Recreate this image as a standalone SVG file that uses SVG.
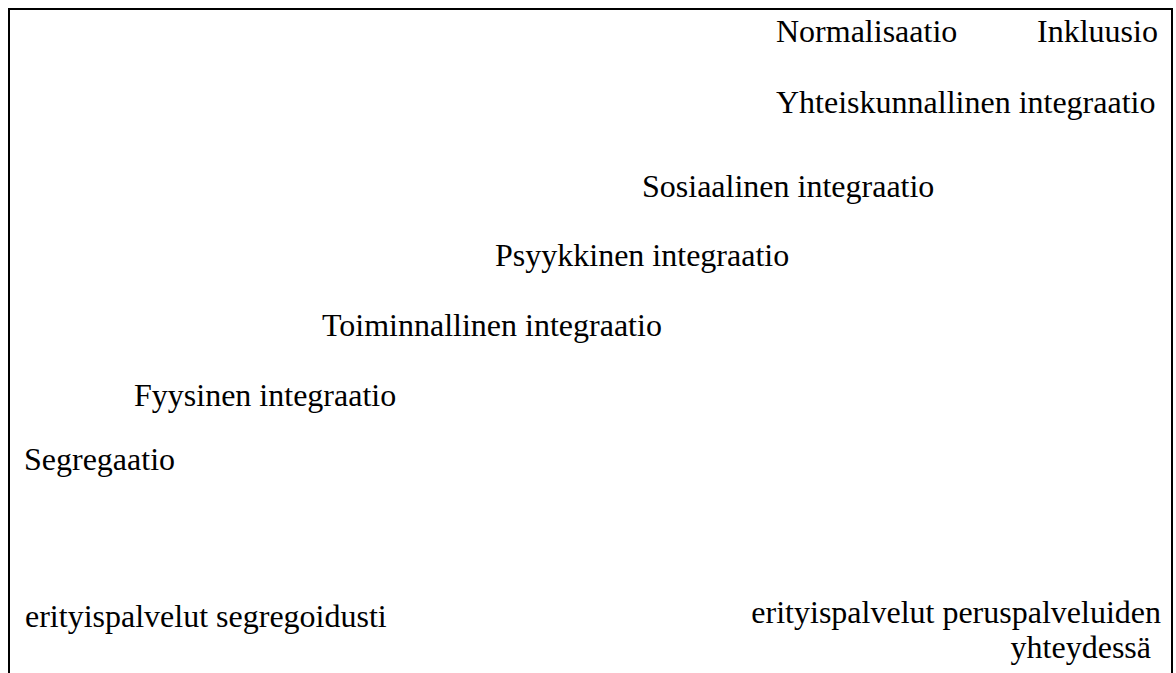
<svg xmlns="http://www.w3.org/2000/svg" width="1176" height="673" viewBox="0 0 1176 673">
<style>
text{font-family:"Liberation Serif","Times New Roman",serif;font-size:32px;fill:#000}
.e{text-anchor:end}
.frame{fill:none;stroke:#000;stroke-width:2}
</style>
<rect x="0" y="0" width="1176" height="673" fill="#fff"/>
<path class="frame" d="M9,673 V9 H1172 V673"/>
<g id="normalisaatio"><text x="776" y="42">Normalisaatio</text></g>
<g id="inkluusio"><text x="1037" y="42">Inkluusio</text></g>
<g id="yhteiskunnallinen"><text x="776" y="113">Yhteiskunnallinen integraatio</text></g>
<g id="sosiaalinen"><text x="642" y="197">Sosiaalinen integraatio</text></g>
<g id="psyykkinen"><text x="495" y="266">Psyykkinen integraatio</text></g>
<g id="toiminnallinen"><text x="322" y="336">Toiminnallinen integraatio</text></g>
<g id="fyysinen"><text x="134" y="406">Fyysinen integraatio</text></g>
<g id="segregaatio"><text x="24" y="470">Segregaatio</text></g>
<g id="erityis-seg"><text x="25" y="627">erityispalvelut segregoidusti</text></g>
<g id="erityis-perus"><text class="e" x="1161" y="623">erityispalvelut peruspalveluiden</text><text class="e" x="1151" y="658">yhteydessä</text></g>
<g id="connectors"></g>
</svg>
